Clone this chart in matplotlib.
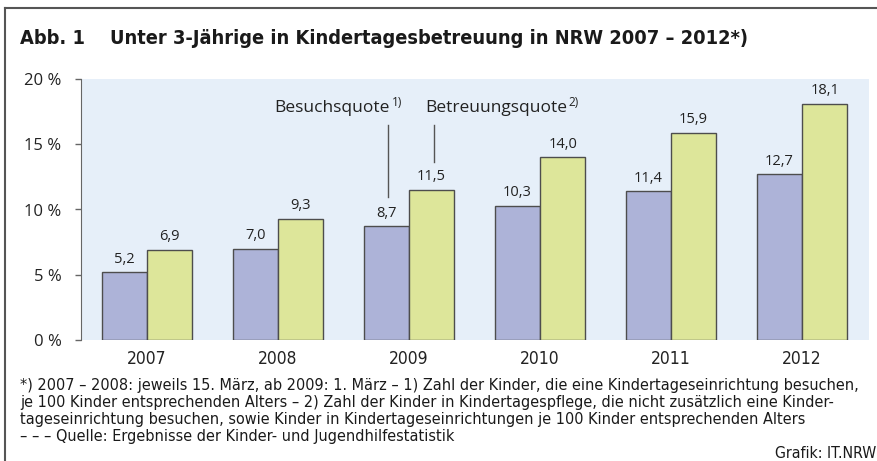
import matplotlib
matplotlib.use("Agg")
import matplotlib.pyplot as plt
from matplotlib.lines import Line2D

years = ["2007", "2008", "2009", "2010", "2011", "2012"]
besuchsquote = [5.2, 7.0, 8.7, 10.3, 11.4, 12.7]
betreuungsquote = [6.9, 9.3, 11.5, 14.0, 15.9, 18.1]
yticks = [0, 5, 10, 15, 20]

c_blue = "#adb3d8"
c_green = "#dde69a"
c_bg = "#e6eff9"
c_edge = "#4d4d4d"
narrow = dict(family="DejaVu Sans", stretch="condensed")
body = dict(family="Open Sans")

fig = plt.figure(figsize=(8.78, 4.61), dpi=100)
W, H = 878, 461

# frame lines
fig.add_artist(Line2D([5 / W, 5 / W], [0, 1 - 8 / H], color="#555555", lw=1.5))
fig.add_artist(Line2D([5 / W, 1], [1 - 8 / H, 1 - 8 / H], color="#555555", lw=1.5))

fig.text(20 / W, 1 - 38 / H, "Abb. 1    Unter 3-Jährige in Kindertagesbetreuung in NRW 2007 – 2012*)",
         fontsize=14.3, fontweight="bold", va="center", color="#1a1a1a", **narrow)

ax = fig.add_axes([81 / W, (H - 340) / H, (869 - 81) / W, (340 - 79) / H])
ax.set_facecolor(c_bg)
x = list(range(len(years)))
bw = 0.345
ax.bar([i - bw for i in x], besuchsquote, width=bw, align="edge", color=c_blue,
       edgecolor=c_edge, linewidth=1, zorder=3)
ax.bar(x, betreuungsquote, width=bw, align="edge", color=c_green,
       edgecolor=c_edge, linewidth=1, zorder=3)

for i in x:
    ax.annotate(f"{besuchsquote[i]:.1f}".replace(".", ","), (i - bw / 2, besuchsquote[i]),
                xytext=(0, 4), textcoords="offset points", ha="center", va="bottom",
                fontsize=10.5, color="#222222", **body)
    ax.annotate(f"{betreuungsquote[i]:.1f}".replace(".", ","), (i + bw / 2, betreuungsquote[i]),
                xytext=(0, 4), textcoords="offset points", ha="center", va="bottom",
                fontsize=10.5, color="#222222", **body)

ax.set_xlim(-0.504, 5.511)
ax.set_ylim(0, 20)
ax.set_yticks(yticks)
ax.set_yticklabels([f"{v} %" for v in yticks], fontsize=12, color="#222222", **body)
ax.tick_params(axis="y", length=4, width=1, color="#666666", pad=10)
ax.set_xticks(x)
ax.set_xticklabels(years, fontsize=12.5, color="#222222", **narrow)
ax.tick_params(axis="x", length=0, pad=7)
for s in ["top", "right", "bottom"]:
    ax.spines[s].set_visible(False)
ax.spines["left"].set_color("#666666")

# series labels with leader lines
t1 = ax.text(1.855, 17.8, "Besuchsquote", ha="right", va="center", fontsize=12.5, color="#222222", **body)
ax.annotate("1)", xy=(1, 0.42), xycoords=t1, xytext=(1, 0), textcoords="offset points",
            ha="left", va="bottom", fontsize=8.5, color="#222222", **body)
ax.plot([1.837, 1.837], [10.96, 16.48], color="#555555", lw=1)
t2 = ax.text(2.12, 17.8, "Betreuungsquote", ha="left", va="center", fontsize=12.5, color="#222222", **body)
ax.annotate("2)", xy=(1, 0.42), xycoords=t2, xytext=(1, 0), textcoords="offset points",
            ha="left", va="bottom", fontsize=8.5, color="#222222", **body)
ax.plot([2.188, 2.188], [13.64, 16.48], color="#555555", lw=1)

notes = ("*) 2007 – 2008: jeweils 15. März, ab 2009: 1. März – 1) Zahl der Kinder, die eine Kindertageseinrichtung besuchen,\n"
         "je 100 Kinder entsprechenden Alters – 2) Zahl der Kinder in Kindertagespflege, die nicht zusätzlich eine Kinder-\n"
         "tageseinrichtung besuchen, sowie Kinder in Kindertageseinrichtungen je 100 Kinder entsprechenden Alters\n"
         "– – – Quelle: Ergebnisse der Kinder- und Jugendhilfestatistik")
fig.text(20 / W, 1 - 378 / H, notes, fontsize=11.6, va="top", ha="left",
         linespacing=1.16, color="#1a1a1a", **narrow)
fig.text(876 / W, 1 - 453 / H, "Grafik: IT.NRW", fontsize=11.3, ha="right",
         va="center", color="#1a1a1a", **narrow)

fig.savefig("out.png", dpi=100)
